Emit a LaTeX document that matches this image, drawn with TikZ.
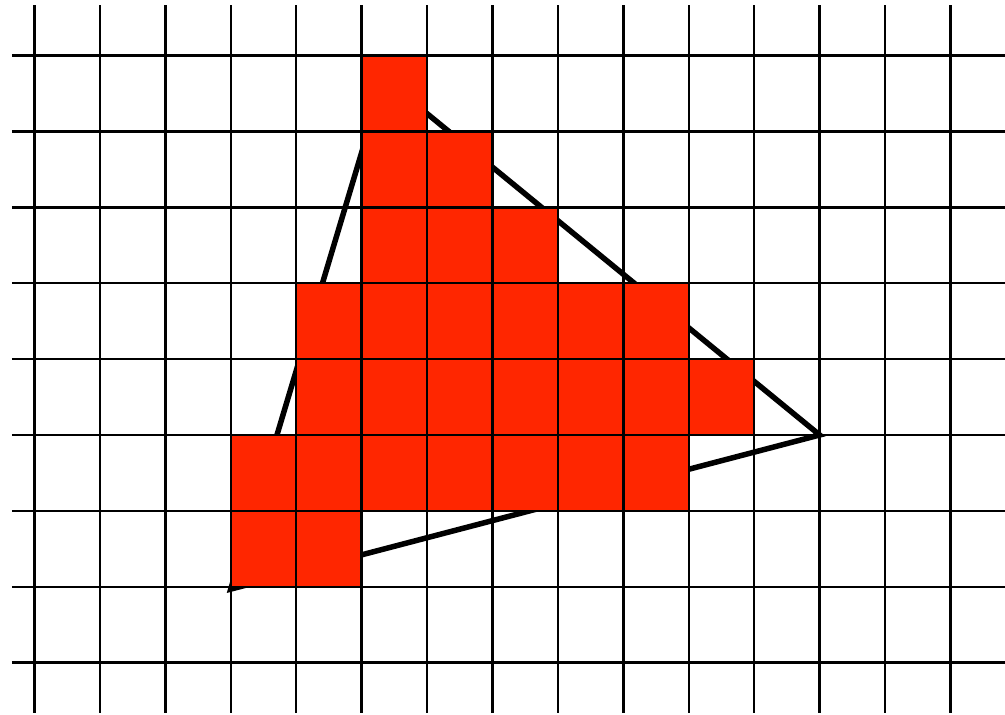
\documentclass[tikz,border=0pt]{standalone}
\definecolor{cellred}{HTML}{FF2600}
\tikzset{
  gridline/.style={line width=2.5pt, black},
  triline/.style={line width=5.5pt, black, line join=miter},
  cell/.style={fill=cellred}
}
\begin{document}
\begin{tikzpicture}[x=1pt,y=-1pt]
\useasboundingbox (0,0) rectangle (1005,715);
\fill[white] (0,0) rectangle (1005,715);
\begin{scope}[shift={(34.5,55.5)}, x=65.43pt, y=-75.9pt]
  % triangle
  \draw[triline] (3,7.03) -- (5.34,0.3) -- (12,5) -- cycle;
  % red cells
  \foreach \c/\r in {5/0, 5/1,6/1, 5/2,6/2,7/2,
    4/3,5/3,6/3,7/3,8/3,9/3,
    4/4,5/4,6/4,7/4,8/4,9/4,10/4,
    3/5,4/5,5/5,6/5,7/5,8/5,9/5,
    3/6,4/6}
    \fill[cell] (\c,\r) rectangle ++(1,1);
  % grid
  \foreach \i in {0,...,14}
    \draw[gridline] (\i,-0.665) -- (\i,8.66);
  \foreach \j in {0,...,8}
    \draw[gridline] (-0.344,\j) -- (14.83,\j);
\end{scope}
\end{tikzpicture}
\end{document}
